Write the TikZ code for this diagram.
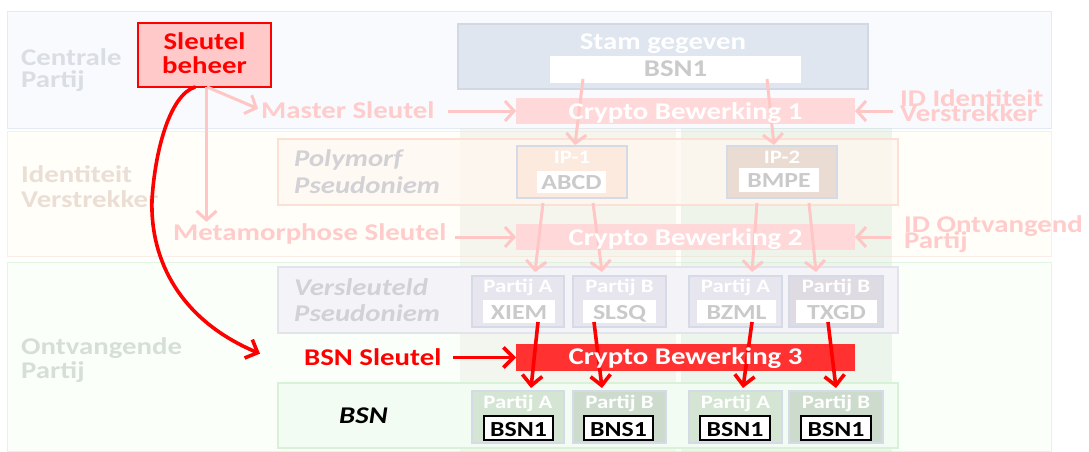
\documentclass[tikz,border=0pt]{standalone}
\usepackage{fontspec}
\setmainfont{Carlito}[FakeStretch=1.2]
\usetikzlibrary{arrows.meta,calc}

% palette
\definecolor{bandCfill}{HTML}{F9FAFD}\definecolor{bandCdraw}{HTML}{E4EAF3}
\definecolor{bandIfill}{HTML}{FFFEF8}\definecolor{bandIdraw}{HTML}{FCEEE6}
\definecolor{bandOfill}{HTML}{FAFFFA}\definecolor{bandOdraw}{HTML}{E2F6E2}
\definecolor{colAfill}{HTML}{E2E2D4}\definecolor{colBfill}{HTML}{CBE0CB}
\definecolor{polyfill}{HTML}{FFF7F1}\definecolor{polydraw}{HTML}{FBE0D6}
\definecolor{verfill}{HTML}{F3F3F8}\definecolor{verdraw}{HTML}{E3E3EC}
\definecolor{bsnfill}{HTML}{F2FCF2}\definecolor{bsndraw}{HTML}{D8F2D8}
\definecolor{stamfill}{HTML}{DFE6F0}\definecolor{stamdraw}{HTML}{D2D9E4}
\definecolor{sbfill}{HTML}{FFC9C9}
\definecolor{cbfill}{HTML}{FFD9D9}\definecolor{cbredfill}{HTML}{FF3131}
\definecolor{ipAfill}{HTML}{FDEADF}\definecolor{ipBfill}{HTML}{EADCD2}
\definecolor{boxdraw}{HTML}{D5DBE6}
\definecolor{vpA}{HTML}{E7E5EE}\definecolor{vpB}{HTML}{DEDBE2}
\definecolor{bpA}{HTML}{D5E5D3}\definecolor{bpB}{HTML}{CDDBCC}
\definecolor{graytxt}{HTML}{CACACA}\definecolor{pinktxt}{HTML}{FFCBCB}
\definecolor{pinkline}{HTML}{FFC6C6}
\definecolor{cptxt}{HTML}{D9DDE4}\definecolor{ivtxt}{HTML}{EADED5}
\definecolor{optxt}{HTML}{D6DFD6}\definecolor{pstxt}{HTML}{D1D1D6}
\definecolor{keyred}{HTML}{FF0000}

\newcommand\szf[1]{\fontsize{#1}{#1}\selectfont}

\tikzset{
  rect/.style={anchor=north west, inner sep=0pt, outer sep=0pt},
  band/.style={rect, line width=1pt},
  lbl/.style={anchor=base west, inner sep=1pt, font=\szf{24}\bfseries},
  ctr/.style={anchor=base, inner sep=1pt, font=\szf{24}\bfseries},
  ital/.style={lbl, font=\szf{24}\bfseries\itshape, text=pstxt},
  crypto/.style={rect, minimum width=339pt, minimum height=26pt},
  ttl/.style={anchor=base, inner sep=0pt, font=\szf{19}\bfseries, text=white},
  val/.style={anchor=base, inner sep=0pt, font=\szf{21.5}\bfseries},
  partbox/.style={rect, draw=boxdraw, line width=1.5pt},
  inbox/.style={rect, fill=white},
  keybox/.style={rect, fill=white, draw=black, line width=2.5pt},
  pinkarrow/.style={draw=pinkline, line width=3pt, -{Straight Barb[length=9pt,width=20pt]}},
  redarrow/.style={draw=keyred, line width=3.6pt, -{Straight Barb[length=10pt,width=20pt]}},
}

\begin{document}
\begin{tikzpicture}[x=1pt,y=-1pt]
\useasboundingbox (0,0) rectangle (1089,452);
\fill[white] (0,0) rectangle (1089,452);

% horizontal bands
\node[band, fill=bandCfill, draw=bandCdraw, minimum width=1044pt, minimum height=116pt] (bandC) at (7,12) {};
\node[band, fill=bandIfill, draw=bandIdraw, minimum width=1044pt, minimum height=125pt] (bandI) at (7,131) {};
\node[band, fill=bandOfill, draw=bandOdraw, minimum width=1044pt, minimum height=189pt] (bandO) at (7,262) {};

% vertical columns
\node[rect, fill=colAfill, fill opacity=.3, minimum width=216pt, minimum height=324pt] (colA) at (460,128) {};
\node[rect, fill=colBfill, fill opacity=.3, minimum width=211pt, minimum height=324pt] (colB) at (681,128) {};

% band labels
\node[lbl, text=cptxt] (cpA) at (20,66) {Centrale};
\node[lbl, text=cptxt] (cpB) at (20,87) {Partij};
\node[lbl, text=ivtxt] (ivA) at (20,182) {Identiteit};
\node[lbl, text=ivtxt] (ivB) at (20,207) {Verstrekker};
\node[lbl, text=optxt] (opA) at (20,354) {Ontvangende};
\node[lbl, text=optxt] (opB) at (20,378) {Partij};

% row frames
\node[rect, fill=polyfill, fill opacity=.7, draw=polydraw, line width=1.5pt, minimum width=620pt, minimum height=66pt] (poly) at (278,139) {};
\node[rect, fill=verfill, draw=verdraw, line width=1.5pt, minimum width=620pt, minimum height=66pt] (vers) at (278,267) {};
\node[rect, fill=bsnfill, draw=bsndraw, line width=2pt, minimum width=620pt, minimum height=65pt] (bsnrow) at (278,383) {};
\node[ital] (polyA) at (293,166) {Polymorf};
\node[ital] (polyB) at (293,193) {Pseudoniem};
\node[ital] (versA) at (293,295) {Versleuteld};
\node[ital] (versB) at (293,321) {Pseudoniem};
\node[ital, text=black] (bsnlbl) at (338,423) {BSN};

% key management
\node[rect, fill=sbfill, draw=keyred, line width=2.5pt, minimum width=133pt, minimum height=64pt] (sb) at (138,23) {};
\node[ctr, text=keyred] (sbA) at (204.5,50) {Sleutel};
\node[ctr, text=keyred] (sbB) at (204.5,74) {beheer};

% source data
\node[rect, fill=stamfill, draw=stamdraw, line width=2pt, minimum width=410pt, minimum height=65pt] (stam) at (458,24) {};
\node[ctr, text=white] (stamttl) at (663,50) {Stam gegeven};
\node[inbox, minimum width=251pt, minimum height=27pt] (stamin) at (550,56) {};
\node[ctr, text=graytxt] (stamval) at (675.5,77) {BSN1};

% crypto operations (boxes; their titles are set after the arrows)
\node[crypto, fill=cbfill] (cb1) at (516,98) {};
\node[crypto, fill=cbfill] (cb2) at (516,224) {};
\node[crypto, fill=cbredfill, minimum height=27pt] (cb3) at (516,344) {};

% key inputs
\node[lbl, text=pinktxt] (ms) at (260,118) {Master Sleutel};
\node[lbl, text=pinktxt] (mm) at (172,240) {Metamorphose Sleutel};
\node[lbl, text=keyred] (bsnk) at (303,365) {BSN Sleutel};
\node[lbl, text=pinktxt] (idiA) at (899,106) {ID Identiteit};
\node[lbl, text=pinktxt] (idiB) at (899,121) {Verstrekker};
\begin{scope}
  \clip (0,0) rectangle (1080,452);
  \node[lbl, text=pinktxt] (idoA) at (903,232) {ID Ontvangende};
  \node[lbl, text=pinktxt] (idoB) at (903,248) {Partij};
\end{scope}

% polymorphic pseudonyms
\node[partbox, fill=ipAfill, minimum width=110pt, minimum height=52pt] (ip1) at (517,146) {};
\node[ttl] (ip1t) at (572,163) {IP-1};
\node[inbox, minimum width=69pt, minimum height=22pt] (ip1in) at (537,171) {};
\node[val, text=graytxt] (ip1v) at (571.5,189) {ABCD};
\node[partbox, fill=ipBfill, minimum width=110pt, minimum height=52pt] (ip2) at (727,146) {};
\node[ttl] (ip2t) at (782,163) {IP-2};
\node[inbox, minimum width=80pt, minimum height=24pt] (ip2in) at (739,168) {};
\node[val, text=graytxt] (ip2v) at (779,187) {BMPE};

% encrypted pseudonyms
\node[partbox, fill=vpA, minimum width=92pt, minimum height=51pt] (pa1) at (472,276) {};
\node[partbox, fill=vpA, minimum width=93pt, minimum height=51pt] (pb1) at (573,276) {};
\node[partbox, fill=vpA, minimum width=93pt, minimum height=51pt] (pa2) at (689,276) {};
\node[partbox, fill=vpB, minimum width=94pt, minimum height=51pt] (pb2) at (789,276) {};
\node[ttl] (pa1t) at (518,292) {Partij A};
\node[ttl] (pb1t) at (619.5,292) {Partij B};
\node[ttl] (pa2t) at (735.5,292) {Partij A};
\node[ttl] (pb2t) at (836,292) {Partij B};
\node[inbox, minimum width=72pt, minimum height=23pt] (pa1in) at (483,300) {};
\node[inbox, minimum width=73pt, minimum height=23pt] (pb1in) at (583,300) {};
\node[inbox, minimum width=79pt, minimum height=23pt] (pa2in) at (697,300) {};
\node[inbox, minimum width=81pt, minimum height=23pt] (pb2in) at (796,300) {};
\node[val, text=graytxt] (pa1v) at (519,319) {XIEM};
\node[val, text=graytxt] (pb1v) at (619.5,319) {SLSQ};
\node[val, text=graytxt] (pa2v) at (736.5,319) {BZML};
\node[val, text=graytxt] (pb2v) at (836.5,319) {TXGD};

% decrypted identities
\node[partbox, fill=bpA, minimum width=92pt, minimum height=52pt] (ba1) at (472,391) {};
\node[partbox, fill=bpB, minimum width=93pt, minimum height=52pt] (bb1) at (573,391) {};
\node[partbox, fill=bpA, minimum width=93pt, minimum height=52pt] (ba2) at (689,391) {};
\node[partbox, fill=bpB, minimum width=94pt, minimum height=52pt] (bb2) at (789,391) {};
\node[ttl] (ba1t) at (518,408) {Partij A};
\node[ttl] (bb1t) at (619.5,408) {Partij B};
\node[ttl] (ba2t) at (735.5,408) {Partij A};
\node[ttl] (bb2t) at (836,408) {Partij B};
\node[keybox, minimum width=69pt, minimum height=24pt] (ba1in) at (484,416) {};
\node[keybox, minimum width=69pt, minimum height=24pt] (bb1in) at (584,416) {};
\node[keybox, minimum width=70pt, minimum height=24pt] (ba2in) at (700,416) {};
\node[keybox, minimum width=70pt, minimum height=24pt] (bb2in) at (801,416) {};
\node[val, text=black] (ba1v) at (518.5,436) {BSN1};
\node[val, text=black] (bb1v) at (618.5,436) {BNS1};
\node[val, text=black] (ba2v) at (735,436) {BSN1};
\node[val, text=black] (bb2v) at (836,436) {BSN1};

% key distribution
\draw[pinkarrow] ([xshift=2.5pt]sb.south) -- ([xshift=-2pt,yshift=1pt]ms.west);
\draw[pinkarrow] ([xshift=2pt]sb.south) -- ([xshift=2pt]sb.south |- mm.north);
\draw[redarrow, line cap=round] ([xshift=-9.5pt]sb.south)
  .. controls (170,95) and (155,150) .. (152,200)
  .. controls (150,260) and (180,320) .. ([xshift=-43pt,yshift=3pt]bsnk.west);

% key inputs into the operations
\draw[pinkarrow] ([xshift=12pt]ms.east |- cb1.west) -- (cb1.west);
\draw[pinkarrow] ([xshift=-6pt]idiA.west |- cb1.east) -- (cb1.east);
\draw[pinkarrow] ([xshift=7pt]mm.east |- cb2.west) -- (cb2.west);
\draw[pinkarrow] ([xshift=-12pt]idoA.west |- cb2.east) -- (cb2.east);
\draw[redarrow] ([xshift=11pt]bsnk.east |- cb3.west) -- (cb3.west);

% data flow
\draw[pinkarrow] ([xshift=33pt,yshift=4pt]stamin.south west) -- ([xshift=3pt,yshift=1pt]ip1.north);
\draw[pinkarrow] ([xshift=-34pt,yshift=4pt]stamin.south east) -- ([xshift=-8pt,yshift=1pt]ip2.north);
\draw[pinkarrow] ([xshift=-29pt,yshift=-5pt]ip1.south) -- ([xshift=17pt,yshift=4pt]pa1.north);
\draw[pinkarrow] ([xshift=21pt,yshift=-5pt]ip1.south) -- ([xshift=-17.5pt,yshift=4pt]pb1.north);
\draw[pinkarrow] ([xshift=-25pt,yshift=-5pt]ip2.south) -- ([xshift=16.5pt,yshift=4pt]pa2.north);
\draw[pinkarrow] ([xshift=27pt,yshift=-5pt]ip2.south) -- ([xshift=-20pt,yshift=4pt]pb2.north);

\draw[redarrow] ([xshift=19pt,yshift=1pt]pa1in.south) -- ([xshift=13pt,yshift=3pt]ba1.north);
\draw[redarrow] ([xshift=-25.5pt,yshift=1pt]pb1in.south) -- ([xshift=-17.5pt,yshift=3pt]bb1.north);
\draw[redarrow] ([xshift=15.5pt,yshift=1pt]pa2in.south) -- ([xshift=7.5pt,yshift=3pt]ba2.north);
\draw[redarrow] ([xshift=-8.5pt,yshift=1pt]pb2in.south) -- ([yshift=3pt]bb2.north);

% operation titles on top of the crossing arrows
\node[ctr, text=white] (cb1t) at (685.5,119) {Crypto Bewerking 1};
\node[ctr, text=white] (cb2t) at (685.5,245) {Crypto Bewerking 2};
\node[ctr, text=white] (cb3t) at (685.5,364) {Crypto Bewerking 3};
\end{tikzpicture}
\end{document}
